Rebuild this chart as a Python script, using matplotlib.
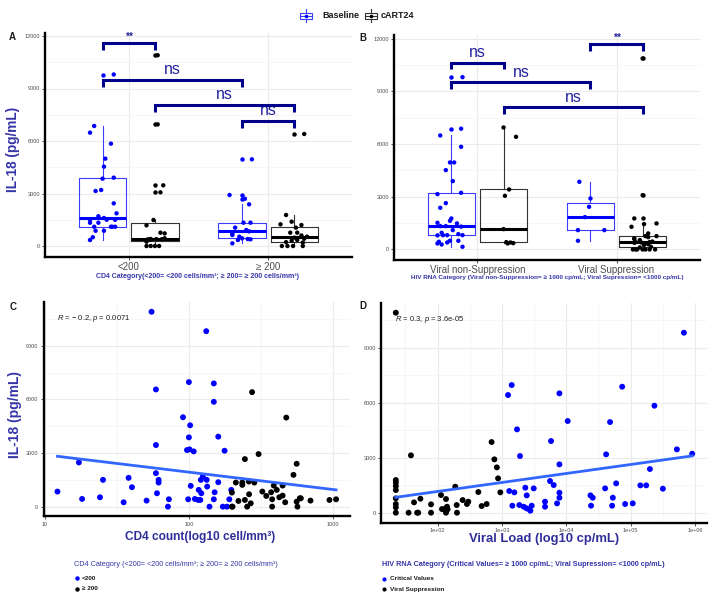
import numpy as np
import matplotlib
matplotlib.use("Agg")
import matplotlib.pyplot as plt
from matplotlib.patches import Rectangle
from matplotlib.ticker import FixedLocator, NullFormatter

plt.rcParams['font.family'] = ['Liberation Sans', 'DejaVu Sans']
plt.rcParams['mathtext.fontset'] = 'custom'
plt.rcParams['mathtext.it'] = 'Liberation Sans:italic'
plt.rcParams['mathtext.rm'] = 'Liberation Sans'

# ---------------- data: panel A (CD4 category) ----------------
cd4_categories = ["<200", "\u2265 200"]
a_base_lt200 = [6858, 6477, 5848, 4991, 4534, 3848, 3905, 3143, 3200, 2438, 1867, 1700, 1600,
                1500, 1500, 1500, 1330, 1330, 1100, 1100, 1100, 1100, 870, 870, 500, 340, 9800]
a_base_lt200_jit = [-0.06, -0.09, 0.06, 0.02, 0.01, 0.0, 0.08, -0.05, -0.01, 0.08, 0.10, -0.03, 0.01,
                    -0.09, 0.03, 0.09, -0.09, -0.03, 0.07, -0.06, 0.06, 0.09, -0.05, 0.01, -0.07, -0.09, 0.08]
a_cart_lt200 = [10900, 6950, 3467, 3067, 1486, 1180, 760, 720, 440, 400, 395, 390, 380, 360, 250, 0, 0, 0, 0]
a_cart_lt200_jit = [0.02, 0.02, 0.06, 0.04, -0.01, -0.06, 0.04, 0.07, 0.07, -0.03, 0.01, 0.05, -0.05,
                    -0.03, -0.06, -0.03, 0.0, 0.03, -0.06]
a_base_ge200 = [4953, 2915, 2700, 2381, 1333, 1333, 1050, 914, 838, 700, 629, 533, 438, 400, 381, 343, 150]
a_base_ge200_jit = [0.07, -0.09, 0.02, 0.05, 0.01, 0.06, -0.05, 0.03, 0.05, -0.07, -0.07, -0.02, 0.0,
                    0.04, 0.06, -0.03, -0.07]
a_cart_ge200 = [6400, 1772, 1390, 1238, 1200, 1048, 762, 762, 600, 533, 476, 419, 343, 300, 220, 200, 0, 0, 0, 0]
a_cart_ge200_jit = [0.07, -0.06, -0.02, -0.10, 0.05, 0.01, -0.03, 0.02, 0.05, 0.09, 0.0, 0.07, 0.02,
                    -0.02, -0.06, 0.06, -0.09, -0.05, -0.01, 0.06]
a_brackets = [(0, 1, "**", 11582), (0, 2, "ns", 9487), (1, 3, "ns", 8058), (2, 3, "ns", 7144)]

# ---------------- data: panel B (HIV RNA category) ----------------
rna_categories = ["Viral non-Suppression", "Viral Suppression"]
b_base_nonsup = [9800, 6870, 6484, 5840, 4949, 4949, 4512, 3887, 3223, 3147, 2635, 2370, 1763, 1630, 1517,
                 1479, 1300, 1327, 1327, 1100, 948, 872, 815, 815, 810, 800, 493, 493, 436, 398, 341, 284, 152]
b_base_nonsup_jit = [0.08, 0.07, -0.08, 0.07, -0.01, 0.02, -0.04, 0.01, 0.07, -0.10, -0.04, -0.08, 0.0, -0.01,
                     -0.10, 0.04, 0.07, -0.08, -0.04, 0.01, -0.07, 0.05, -0.03, 0.08, -0.06, -0.10, 0.05,
                     -0.01, -0.09, -0.03, -0.10, -0.07, 0.08]
b_cart_nonsup = [6939, 6408, 3413, 3053, 1157, 417, 398, 360, 341]
b_cart_nonsup_jit = [0.0, 0.09, 0.04, 0.01, 0.0, 0.02, 0.05, 0.07, 0.03]
b_base_sup = [3849, 2901, 2427, 1839, 1100, 1100, 493]
b_base_sup_jit = [-0.08, 0.0, -0.01, -0.04, -0.09, 0.10, -0.09]
b_cart_sup = [0, 0, 0, 0, 0, 0, 0, 114, 150, 250, 300, 380, 400, 417, 417, 450, 530, 600, 626, 700,
              758, 758, 910, 1290, 1441, 1479, 1763, 3090, 10864]
b_cart_sup_jit = [-0.07, -0.04, 0.0, 0.05, 0.09, -0.05, 0.02, -0.02, 0.06, 0.01, 0.04, -0.06, -0.01, -0.05,
                  0.05, 0.07, -0.02, -0.06, -0.06, 0.04, 0.10, 0.02, 0.04, -0.08, 0.01, 0.10, -0.06, 0.0, 0.0]
b_brackets = [(0, 1, "ns", 10618), (0, 2, "ns", 9499), (1, 3, "ns", 8077), (2, 3, "**", 11679)]

# ---------------- data: panel C (CD4 count vs IL-18) ----------------
c_lt200_cd4 = [55, 132, 100, 149, 59, 149, 91, 102, 100, 160, 59, 97, 101, 108, 177, 17.2, 59, 61.6, 61.6, 25.3,
               38.1, 40.2, 121, 133, 125, 160, 103, 134, 117, 122, 197, 12.2, 60, 151, 18.1, 24.1, 35.2, 50.8,
               72.6, 98.9, 110, 116, 120, 149, 191, 71.5, 139, 172, 184]
c_lt200_il18 = [10913, 9825, 6975, 6900, 6563, 5869, 5006, 4556, 3881, 3919, 3450, 3169, 3206, 3094, 3131, 2475,
                1875, 1500, 1350, 1500, 1613, 1088, 1500, 1500, 1688, 1369, 1163, 1125, 938, 750, 938, 844, 750,
                806, 431, 525, 244, 338, 413, 413, 431, 375, 375, 413, 413, 0, 0, 0, 0]
c_ge200_cd4 = [275, 475, 561, 533, 305, 245, 212, 235, 235, 261, 285, 389, 448, 408, 199, 324, 373, 345, 448, 425,
               262, 221, 245, 379, 467, 561, 590, 600, 700, 948, 1054, 199, 201, 254, 269, 379, 568]
c_ge200_il18 = [6413, 4988, 2400, 1781, 2944, 2663, 1350, 1350, 1219, 1406, 1350, 1181, 1181, 938, 788, 844, 806,
                600, 619, 525, 694, 319, 375, 413, 244, 281, 469, 469, 338, 375, 413, 0, 0, 0, 188, 0, 0]

# ---------------- data: panel D (viral load vs IL-18) ----------------
d_sup_vl = [22.4, 38.5, 22.4, 22.4, 22.4, 22.4, 22.4, 22.4, 22.4, 22.4, 35.4, 48, 50, 79, 135, 200, 43, 54, 79,
            113, 117, 124, 140, 143, 135, 188, 198, 245, 300, 286, 430, 484, 579, 691, 763, 834, 871, 944]
d_sup_il18 = [10909, 3127, 1782, 1636, 1454, 1236, 782, 473, 291, 0, 0, 0, 0, 0, 0, 0, 564, 764, 455, 964, 200,
              182, 327, 182, 745, 1418, 418, 690, 600, 473, 1127, 364, 473, 3854, 2909, 2473, 1873, 1109]
d_crit_vl = [1245, 1419, 7830, 74000, 235000, 10540, 48000, 1717, 5800, 1910, 7830, 41700, 525000, 908000,
             675000, 200000, 5600, 6380, 7830, 7830, 1300, 1560, 2310, 3120, 2430, 1453, 1866, 2180, 2426, 2671,
             2770, 2904, 4680, 4680, 7200, 23800, 25800, 24300, 40200, 53000, 51700, 59700, 82400, 108000,
             142000, 175000, 318000]
d_crit_il18 = [6418, 6963, 6509, 6872, 5836, 5000, 4945, 4545, 3909, 3091, 2636, 3182, 3454, 3218, 9818, 2382,
               1727, 1509, 1091, 818, 1182, 1109, 1364, 1327, 945, 382, 418, 327, 236, 182, 109, 382, 600, 327,
               509, 945, 818, 382, 1327, 818, 382, 1600, 473, 509, 1491, 1491, 1309]

r_text_c = "$R$ = \u2212 0.2, $p$ = 0.0071"
r_text_d = "$R$ = 0.3, $p$ = 3.6e-05"

# ---------------- styling ----------------
W, H = 715, 601
fig = plt.figure(figsize=(W / 100, H / 100), dpi=100)

BLUE = '#0000FF'
BOXBLUE = '#3D3DFF'
BLACK = '#000000'
BOXBLACK = '#333333'
NAVY = '#00008B'
SIGTXT = '#2323A0'
LABBLUE = '#3535A8'
TICKC = '#4D4D4D'
GRID = '#EBEBEB'
GRIDMIN = '#F3F3F3'
SMOOTH = '#3366FF'


def ax_px(l, t, r, b):
    return fig.add_axes([l / W, 1 - b / H, (r - l) / W, (b - t) / H])


def style_axes(ax):
    for s in ['top', 'right']:
        ax.spines[s].set_visible(False)
    for s in ['left', 'bottom']:
        ax.spines[s].set_linewidth(1.7)
        ax.spines[s].set_color('black')
    ax.set_axisbelow(True)
    ax.tick_params(which='major', length=2.2, width=0.6, color='#333333', pad=1.5)
    ax.tick_params(which='minor', length=0)
    ax.tick_params(axis='y', labelsize=4, labelcolor=TICKC)
    ax.grid(which='major', color=GRID, lw=0.8)
    ax.grid(which='minor', color=GRIDMIN, lw=0.5)


DODGE = 0.1875


def box_panel(ax, groups, categories, brackets):
    # groups: list of (values, jitter, position, boxcolor, pointcolor)
    for vals, jit, pos, bc, pc in groups:
        ax.boxplot(vals, positions=[pos], widths=0.34, whis=1.5, manage_ticks=False,
                   boxprops=dict(color=bc, lw=0.8),
                   medianprops=dict(color=pc, lw=2.2),
                   whiskerprops=dict(color=bc, lw=0.8),
                   capprops=dict(lw=0),
                   flierprops=dict(marker='o', markerfacecolor=pc, markeredgecolor='none', markersize=3.2))
        ax.scatter(pos + np.array(jit), vals, s=10, color=pc, edgecolors='none', zorder=3)
    xs = [g[2] for g in groups]
    for i, j, lab, y in brackets:
        x1, x2 = xs[i], xs[j]
        drop = 380
        ax.plot([x1, x1, x2, x2], [y - drop, y, y, y - drop], color=NAVY, lw=2.2,
                solid_joinstyle='miter', solid_capstyle='butt', zorder=4)
        if lab == 'ns':
            ax.text((x1 + x2) / 2, y + 150, lab, ha='center', va='bottom', fontsize=11.5, color=SIGTXT)
        else:
            ax.text((x1 + x2) / 2, y + 60, lab, ha='center', va='bottom', fontsize=7.5, color=SIGTXT,
                    fontweight='bold')
    ax.set_xlim(0.4, 2.6)
    ax.set_ylim(-600, 12200)
    ax.set_xticks([1, 2])
    ax.set_xticklabels(categories)
    ax.set_yticks([0, 3000, 6000, 9000, 12000])
    ax.yaxis.set_minor_locator(FixedLocator([1500, 4500, 7500, 10500]))
    ax.tick_params(axis='x', labelsize=7, labelcolor=TICKC, pad=1.5)


# ---------------- Panel A ----------------
axA = ax_px(45, 32.5, 352, 256.5)
style_axes(axA)
box_panel(axA, [
    (a_base_lt200, a_base_lt200_jit, 1 - DODGE, BOXBLUE, BLUE),
    (a_cart_lt200, a_cart_lt200_jit, 1 + DODGE, BOXBLACK, BLACK),
    (a_base_ge200, a_base_ge200_jit, 2 - DODGE, BOXBLUE, BLUE),
    (a_cart_ge200, a_cart_ge200_jit, 2 + DODGE, BOXBLACK, BLACK),
], cd4_categories, a_brackets)

# ---------------- Panel B ----------------
axB = ax_px(394, 35, 700, 260)
style_axes(axB)
box_panel(axB, [
    (b_base_nonsup, b_base_nonsup_jit, 1 - DODGE, BOXBLUE, BLUE),
    (b_cart_nonsup, b_cart_nonsup_jit, 1 + DODGE, BOXBLACK, BLACK),
    (b_base_sup, b_base_sup_jit, 2 - DODGE, BOXBLUE, BLUE),
    (b_cart_sup, b_cart_sup_jit, 2 + DODGE, BOXBLACK, BLACK),
], rna_categories, b_brackets)


# ---------------- scatter panels ----------------
def scatter_panel(ax, g1x, g1y, g2x, g2y, major, majlabels, minor, rtext, rpos):
    ax.set_xscale('log')
    ax.scatter(g1x, g1y, s=18, color=BLUE, edgecolors='none', zorder=3)
    ax.scatter(g2x, g2y, s=18, color=BLACK, edgecolors='none', zorder=3)
    allx = np.array(list(g1x) + list(g2x), dtype=float)
    ally = np.array(list(g1y) + list(g2y), dtype=float)
    lx = np.log10(allx)
    slope, icpt = np.polyfit(lx, ally, 1)
    xx = np.linspace(lx.min(), lx.max(), 50)
    ax.plot(10 ** xx, icpt + slope * xx, color=SMOOTH, lw=2.0, zorder=4)
    span = lx.max() - lx.min()
    ax.set_xlim(10 ** (lx.min() - 0.05 * span), 10 ** (lx.max() + 0.05 * span))
    yspan = ally.max() - ally.min()
    ax.set_ylim(ally.min() - 0.05 * yspan, ally.max() + 0.05 * yspan)
    ax.xaxis.set_major_locator(FixedLocator(major))
    ax.set_xticklabels(majlabels)
    ax.xaxis.set_minor_locator(FixedLocator(minor))
    ax.xaxis.set_minor_formatter(NullFormatter())
    ax.set_yticks([0, 3000, 6000, 9000])
    ax.yaxis.set_minor_locator(FixedLocator([1500, 4500, 7500, 10500]))
    ax.tick_params(axis='x', labelsize=4, labelcolor=TICKC)
    ax.text(rpos[0], rpos[1], rtext, transform=ax.transAxes, fontsize=5.5, color='#1a1a1a',
            ha='left', va='center')


axC = ax_px(43.5, 302, 350, 516.4)
style_axes(axC)
scatter_panel(axC, c_lt200_cd4, c_lt200_il18, c_ge200_cd4, c_ge200_il18,
              [10, 100, 1000], ["10", "100", "1000"], [10 ** 1.5, 10 ** 2.5],
              r_text_c, ((57 - 43.5) / 306.5, (516.4 - 319) / 214.4))

axD = ax_px(381, 302.7, 707, 522.7)
style_axes(axD)
scatter_panel(axD, d_crit_vl, d_crit_il18, d_sup_vl, d_sup_il18,
              [1e2, 1e3, 1e4, 1e5, 1e6], ["1e+02", "1e+03", "1e+04", "1e+05", "1e+06"],
              [10 ** 1.5, 10 ** 2.5, 10 ** 3.5, 10 ** 4.5, 10 ** 5.5],
              r_text_d, ((395 - 381) / 326, (522.7 - 320) / 220))

# ---------------- overlay for texts and legends (pixel coordinates) ----------------
ov = fig.add_axes([0, 0, 1, 1], zorder=10)
ov.set_xlim(0, W)
ov.set_ylim(H, 0)
ov.axis('off')

# panel letters
for lab, (x, y) in zip("ABCD", [(12, 37), (363, 38), (13, 307), (363, 306)]):
    ov.text(x, y, lab, fontsize=7, fontweight='bold', ha='center', va='center', color='#1a1a1a')

# axis titles
ov.text(13, 149, "IL-18 (pg/mL)", rotation=90, fontsize=9.8, fontweight='bold', color=LABBLUE,
        ha='center', va='center')
ov.text(15, 414, "IL-18 (pg/mL)", rotation=90, fontsize=10, fontweight='bold', color=LABBLUE,
        ha='center', va='center')
ov.text(198, 277, "CD4 Category(<200= <200 cells/mm\u00b3; \u2265 200= \u2265 200 cells/mm\u00b3)",
        fontsize=5, fontweight='bold', color=LABBLUE, ha='center', va='center')
ov.text(547, 277, "HIV RNA Category (Viral non-Suppression= \u2265 1000 cp/mL; Viral Supression= <1000 cp/mL)",
        fontsize=4.6, fontweight='bold', color=LABBLUE, ha='center', va='center')
ov.text(200, 537, "CD4 count(log10 cell/mm\u00b3)", fontsize=8.6, fontweight='bold', color='#2E2E99',
        ha='center', va='center')
ov.text(544, 539, "Viral Load (log10 cp/mL)", fontsize=9.4, fontweight='bold', color='#2E2E99',
        ha='center', va='center')

# bottom legends
ov.text(74, 565, "CD4 Category (<200= <200 cells/mm\u00b3; \u2265 200= \u2265 200 cells/mm\u00b3)",
        fontsize=5.2, color=LABBLUE, ha='left', va='center')
ov.plot([77], [578], 'o', color=BLUE, ms=3.2, mec='none')
ov.plot([77], [589], 'o', color=BLACK, ms=3.2, mec='none')
ov.text(82, 578, "<200", fontsize=4.6, fontweight='bold', color='#1a1a1a', ha='left', va='center')
ov.text(82, 589, "\u2265 200", fontsize=4.6, fontweight='bold', color='#1a1a1a', ha='left', va='center')

ov.text(382, 564, "HIV RNA Category (Critical Values= \u2265 1000 cp/mL; Viral Supression= <1000 cp/mL)",
        fontsize=5.2, fontweight='bold', color=LABBLUE, ha='left', va='center')
ov.plot([384], [578.5], 'o', color=BLUE, ms=3.0, mec='none')
ov.plot([384], [589], 'o', color=BLACK, ms=3.0, mec='none')
ov.text(390, 578.5, "Critical Values", fontsize=4.6, fontweight='bold', color='#1a1a1a', ha='left', va='center')
ov.text(390, 589, "Viral Suppression", fontsize=4.6, fontweight='bold', color='#1a1a1a', ha='left', va='center')

# top legend
legend_items = [("Baseline", BOXBLUE, BLUE, 299.5, 322), ("cART24", BOXBLACK, BLACK, 364.5, 381)]
for name, bc, pc, gx, tx in legend_items:
    ov.add_patch(Rectangle((gx, 12.5), 12, 6, fill=False, ec=bc, lw=0.8))
    ov.plot([gx + 6, gx + 6], [9.0, 12.5], color=bc, lw=0.8)
    ov.plot([gx + 6, gx + 6], [18.5, 22.0], color=bc, lw=0.8)
    ov.plot([gx, gx + 12], [15.5, 15.5], color=bc, lw=0.8)
    ov.plot([gx + 6], [15.5], 'o', color=pc, ms=2.6, mec='none')
    ov.text(tx, 15.7, name, fontsize=6.5, fontweight='bold', color='#1a1a1a', ha='left', va='center')

fig.savefig("out.png", dpi=100)
